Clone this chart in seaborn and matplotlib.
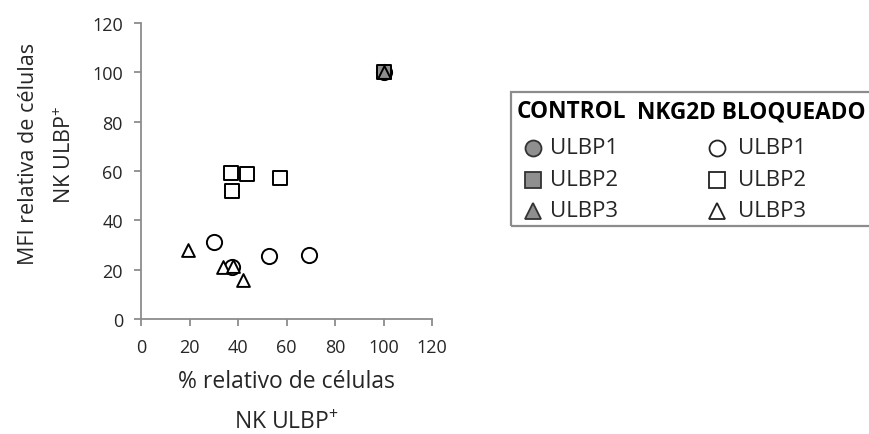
import matplotlib
matplotlib.use("Agg")
import matplotlib.pyplot as plt
from matplotlib.patches import Rectangle
from matplotlib.lines import Line2D
import seaborn as sns
import pandas as pd

sns.set_theme(style="white")
plt.rcParams["font.family"] = ["Open Sans", "DejaVu Sans"]
plt.rcParams["mathtext.fontset"] = "custom"
plt.rcParams["mathtext.rm"] = "Open Sans"

# Control condition: all three ligands normalised to 100 %
ctrl_ligands = ["ULBP1", "ULBP2", "ULBP3"]
ctrl_x = [100, 100, 100]
ctrl_y = [100, 100, 100]

# NKG2D blocked condition
ulbp1_x = [29.9, 52.7, 69.1, 37.7]
ulbp1_y = [31.1, 25.7, 25.8, 21.2]
ulbp2_x = [37.0, 43.6, 57.4, 37.4]
ulbp2_y = [59.3, 58.6, 57.1, 51.7]
ulbp3_x = [19.3, 33.7, 38.1, 42.0]
ulbp3_y = [28.1, 21.2, 21.6, 15.9]

ticks = [0, 20, 40, 60, 80, 100, 120]

rows = []
for lig, x, y in zip(ctrl_ligands, ctrl_x, ctrl_y):
    rows.append(dict(x=x, y=y, ligand=lig, group="CONTROL"))
for lig, xs, ys in [("ULBP1", ulbp1_x, ulbp1_y),
                    ("ULBP2", ulbp2_x, ulbp2_y),
                    ("ULBP3", ulbp3_x, ulbp3_y)]:
    for x, y in zip(xs, ys):
        rows.append(dict(x=x, y=y, ligand=lig, group="NKG2D BLOQUEADO"))
df = pd.DataFrame(rows)

markers = {"ULBP1": "o", "ULBP2": "s", "ULBP3": "^"}
sizes = {"ULBP1": 120, "ULBP2": 100, "ULBP3": 85}
faces = {"CONTROL": "#8f8f8f", "NKG2D BLOQUEADO": "white"}

fig = plt.figure(figsize=(8.69, 4.35), dpi=100)
ax = fig.add_axes([0.1623, 0.2644, 0.3349, 0.6805])

for grp in ["NKG2D BLOQUEADO", "CONTROL"]:
    for lig in ["ULBP1", "ULBP2", "ULBP3"]:
        sub = df[(df.group == grp) & (df.ligand == lig)]
        sns.scatterplot(data=sub, x="x", y="y", marker=markers[lig],
                        s=sizes[lig], color=faces[grp], edgecolor="black",
                        linewidth=1.4, ax=ax, legend=False, zorder=3)

ax.set_xlim(0, 120)
ax.set_ylim(0, 120)
ax.set_xticks(ticks)
ax.set_yticks(ticks)
ax.set_xticklabels([str(t) for t in ticks])
ax.set_yticklabels([str(t) for t in ticks])
for side in ["top", "right"]:
    ax.spines[side].set_visible(False)
for side in ["left", "bottom"]:
    ax.spines[side].set_color("#8c8c8c")
    ax.spines[side].set_linewidth(1.3)
ax.tick_params(axis="both", which="major", direction="out", length=5,
               width=1.3, color="#8c8c8c", labelsize=13, labelcolor="#262626",
               bottom=True, left=True)
ax.tick_params(axis="x", pad=9)
ax.tick_params(axis="y", pad=8)
ax.set_xlabel("% relativo de células\nNK ULBP$^{+}$", fontsize=16.5,
              color="#262626", linespacing=1.95, labelpad=9)
ax.set_ylabel("MFI relativa de células\nNK ULBP$^{+}$", fontsize=15.5,
              color="#262626", linespacing=1.9, labelpad=12)
ax.yaxis.label.set_y(0.56)
ax.grid(False)

# Legend table drawn in figure coordinates
W, H = 869, 435
def fx(px):
    return px / W
def fy(py):
    return 1 - py / H

fig.patches.append(Rectangle((fx(511), fy(227)), fx(400), (227 - 93) / H,
                             transform=fig.transFigure, fill=False,
                             edgecolor="#8c8c8c", linewidth=1.6))
fig.text(fx(517), fy(112), "CONTROL", fontsize=16.3, fontweight="bold",
         va="center", ha="left", color="black")
fig.text(fx(637), fy(112), "NKG2D BLOQUEADO", fontsize=16.3, fontweight="bold",
         va="center", ha="left", color="black")

row_y = [149, 181, 212]
leg_sizes = {"ULBP1": 11.5, "ULBP2": 11, "ULBP3": 11}
for lig, py in zip(["ULBP1", "ULBP2", "ULBP3"], row_y):
    fig.lines.append(Line2D([fx(533)], [fy(py)], marker=markers[lig],
                            markersize=leg_sizes[lig],
                            markerfacecolor=faces["CONTROL"],
                            markeredgecolor="#333333", markeredgewidth=1.3,
                            linestyle="none", transform=fig.transFigure))
    fig.text(fx(550), fy(py), lig, fontsize=16, va="center", ha="left",
             color="#262626")
    fig.lines.append(Line2D([fx(717)], [fy(py)], marker=markers[lig],
                            markersize=leg_sizes[lig],
                            markerfacecolor="white",
                            markeredgecolor="#222222", markeredgewidth=1.3,
                            linestyle="none", transform=fig.transFigure))
    fig.text(fx(738), fy(py), lig, fontsize=16, va="center", ha="left",
             color="#262626")

fig.savefig("out.png", dpi=100)
